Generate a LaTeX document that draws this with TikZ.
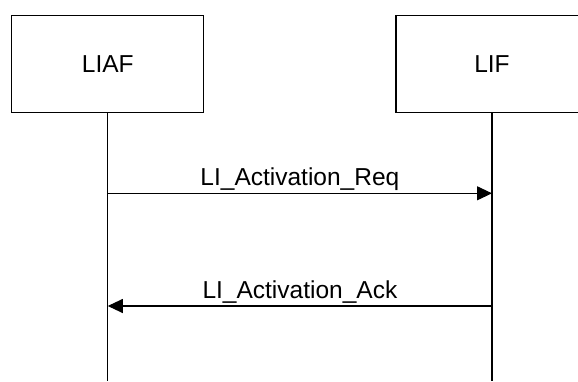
\documentclass[tikz,border=0pt]{standalone}
\usepackage{fontspec}
\setmainfont{Liberation Sans}
\usetikzlibrary{arrows.meta}

\tikzset{
	entity/.style={draw, line width=1.1pt, minimum width=192pt, minimum height=97pt, inner sep=0pt, font=\fontsize{24.5}{29}\selectfont},
	lifeline/.style={line width=1.1pt},
	msg/.style={line width=1.1pt, -{Triangle[length=15pt,width=14pt]}},
	msglabel/.style={anchor=base, yshift=8pt, inner sep=0pt, font=\fontsize{24.5}{29}\selectfont},
}

\begin{document}
\begin{tikzpicture}[x=1pt,y=1pt]
	\useasboundingbox (0,0) rectangle (578,381);
	\node[entity] (liaf) at (107.8,316.7) {LIAF};
	\node[entity] (lif) at (492,316.7) {LIF};
	\coordinate (bottom) at (0,0);
	\coordinate (req) at (0,187.7);
	\coordinate (ack) at (0,75);
	\draw[lifeline] (liaf.south) -- (liaf |- bottom);
	\draw[lifeline] (lif.south) -- (lif |- bottom);
	\draw[msg] (liaf |- req) -- node[msglabel] {LI\_Activation\_Req} (lif |- req);
	\draw[msg] (lif |- ack) -- node[msglabel] {LI\_Activation\_Ack} (liaf |- ack);
\end{tikzpicture}
\end{document}
